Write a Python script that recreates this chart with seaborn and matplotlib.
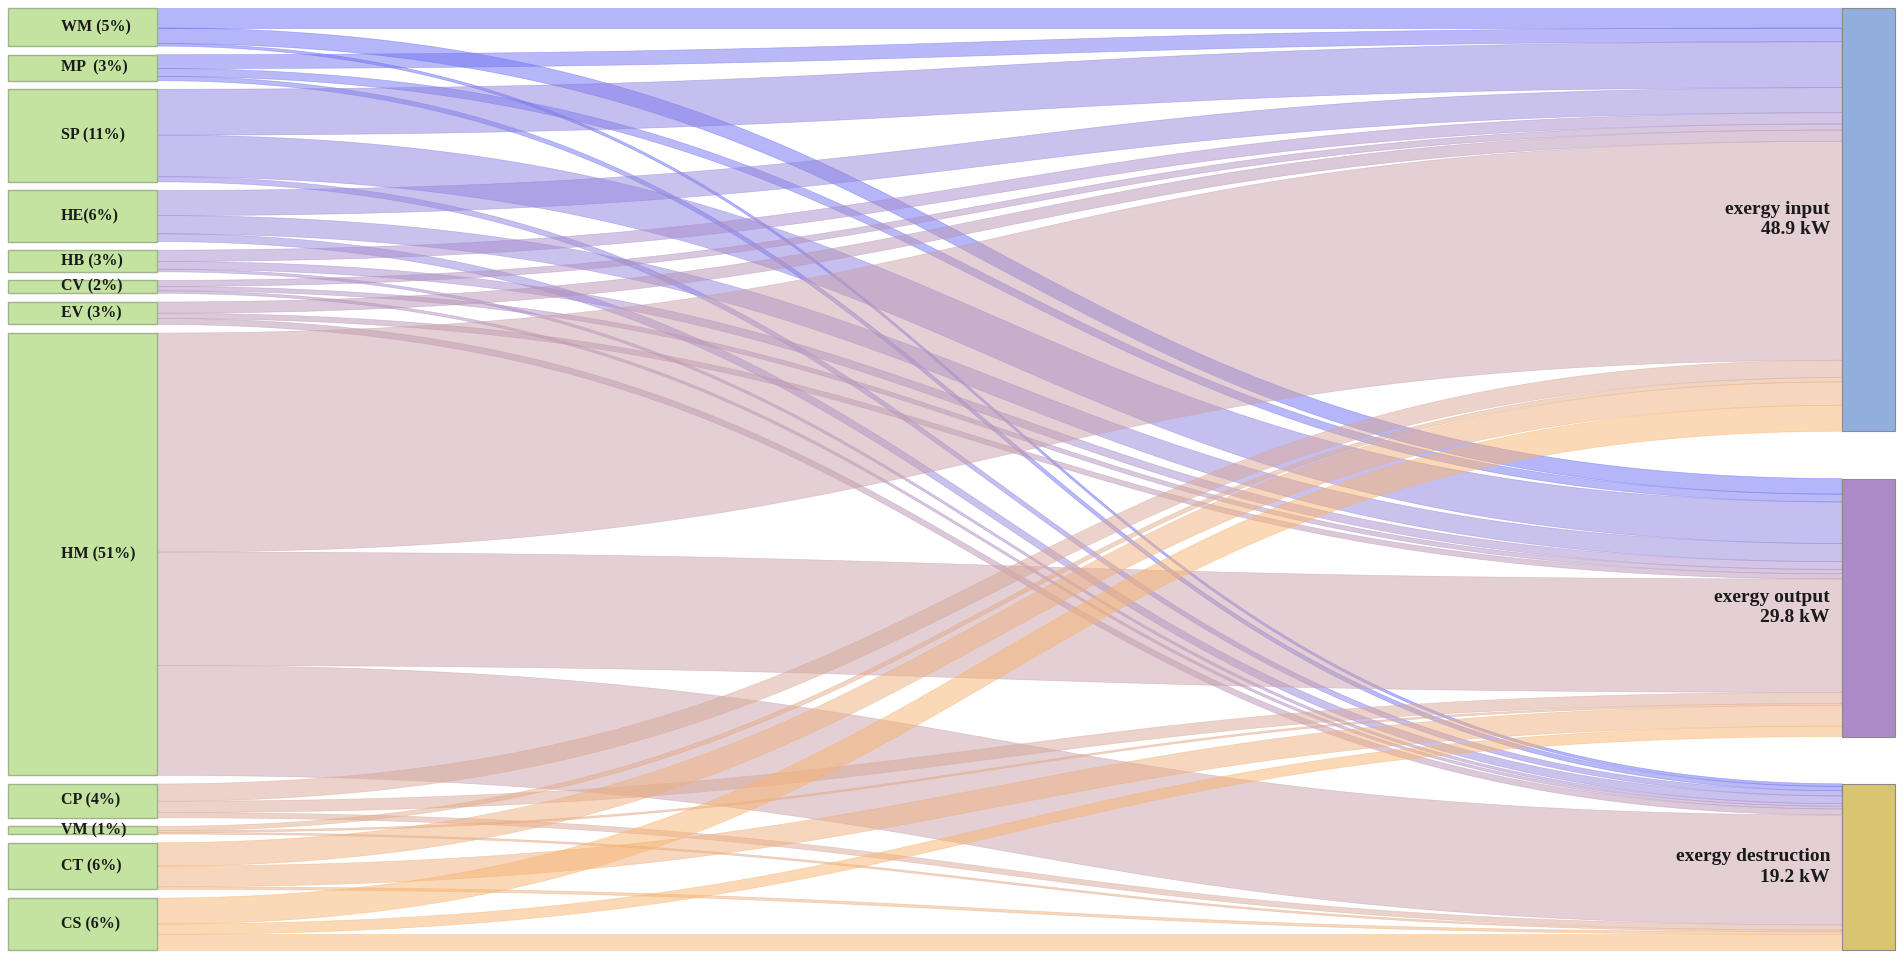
import numpy as np
import matplotlib.pyplot as plt
import seaborn as sns

# components (left) and exergy flows in kW
components = ["WM", "MP", "SP", "HE", "HB", "CV", "EV", "HM", "CP", "VM", "CT", "CS"]
comp_labels = ["WM (5%)", "MP  (3%)", "SP (11%)", "HE(6%)", "HB (3%)", "CV (2%)",
               "EV (3%)", "HM (51%)", "CP (4%)", "VM (1%)", "CT (6%)", "CS (6%)"]
targets = ["exergy input", "exergy output", "exergy destruction"]
target_totals = [48.9, 29.8, 19.2]

ex_input = [2.3, 1.6, 5.3, 2.9, 1.3, 0.7, 1.3, 25.3, 2.0, 0.5, 2.7, 3.0]
ex_output = [1.8, 0.9, 4.8, 2.1, 0.9, 0.5, 0.6, 13.1, 1.3, 0.2, 2.4, 1.2]
ex_destr = [0.3, 0.5, 0.6, 0.9, 0.3, 0.3, 0.7, 12.7, 0.6, 0.2, 0.3, 1.8]

# styles
link_colors = sns.color_palette(["#6a6ef5", "#7275ef", "#8c80e2", "#9486dc", "#a98ccc", "#b090c0",
                                 "#b895b4", "#c9a0aa", "#d9a898", "#e3ab8a", "#eeb07e", "#f8b46e"])
target_colors = ["#92aedc", "#ac8ac8", "#d9c472"]
left_color = "#c4e3a0"

sns.set_theme(style="white")
plt.rcParams['font.family'] = ['Liberation Serif', 'DejaVu Serif']

W, H = 1902, 958
fig = plt.figure(figsize=(W / 100, H / 100), dpi=100)
ax = fig.add_axes([0, 0, 1, 1])
ax.set_xlim(0, W)
ax.set_ylim(H, 0)
ax.axis("off")

flows = np.array([ex_input, ex_output, ex_destr]).T  # (12, 3)
top, bottom = 8, 950
lx0, lx1 = 8, 157
rx0, rx1 = 1842, 1895
left_gap = 8.6

total = flows.sum()
k = (bottom - top - left_gap * (len(components) - 1)) / total
right_gap = (bottom - top - k * total) / (len(targets) - 1)

# node positions
left_h = flows.sum(axis=1) * k
left_y = top + np.concatenate([[0], np.cumsum(left_h[:-1] + left_gap)])
right_h = flows.sum(axis=0) * k
right_y = top + np.concatenate([[0], np.cumsum(right_h[:-1] + right_gap)])


def bez(x0, y0, x1, y1, n=120):
    t = np.linspace(0, 1, n)
    xm = (x0 + x1) / 2
    x = (1 - t) ** 3 * x0 + 3 * (1 - t) ** 2 * t * xm + 3 * (1 - t) * t ** 2 * xm + t ** 3 * x1
    y = (1 - t) ** 3 * y0 + 3 * (1 - t) ** 2 * t * y0 + 3 * (1 - t) * t ** 2 * y1 + t ** 3 * y1
    return x, y


# stacking offsets at source and target ends
src_starts = np.zeros_like(flows)
for i in range(len(components)):
    acc = left_y[i]
    for j in range(len(targets)):
        src_starts[i, j] = acc
        acc += flows[i, j] * k
tgt_starts = np.zeros_like(flows)
for j in range(len(targets)):
    acc = right_y[j]
    for i in range(len(components)):
        tgt_starts[i, j] = acc
        acc += flows[i, j] * k

# links
for i in range(len(components)):
    for j in range(len(targets)):
        h = flows[i, j] * k
        xa, ya = bez(lx1, src_starts[i, j], rx0, tgt_starts[i, j])
        xb, yb = bez(lx1, src_starts[i, j] + h, rx0, tgt_starts[i, j] + h)
        px = np.concatenate([xa, xb[::-1]])
        py = np.concatenate([ya, yb[::-1]])
        ax.fill(px, py, facecolor=link_colors[i], alpha=0.5,
                edgecolor=link_colors[i], linewidth=0.5, zorder=1)

# left nodes
ax.bar(x=[(lx0 + lx1) / 2] * len(components), height=left_h, bottom=left_y,
       width=lx1 - lx0, color=left_color, edgecolor="#9fb38f", linewidth=1.0, zorder=3)
for i, lab in enumerate(comp_labels):
    ax.text(61, left_y[i] + left_h[i] / 2, lab, ha="left", va="center",
            fontsize=11.5, fontweight="bold", color="#1a1a1a", zorder=4)

# right nodes
ax.bar(x=[(rx0 + rx1) / 2] * len(targets), height=right_h, bottom=right_y,
       width=rx1 - rx0, color=target_colors, edgecolor="#8a8a8a", linewidth=0.8, zorder=3)
for j, name in enumerate(targets):
    ax.text(rx0 - 12, right_y[j] + right_h[j] / 2, f"{name}\n{target_totals[j]} kW",
            ha="right", va="center", fontsize=14, fontweight="bold",
            color="#1a1a1a", linespacing=1.25, zorder=4)

fig.savefig("out.png", dpi=100)
